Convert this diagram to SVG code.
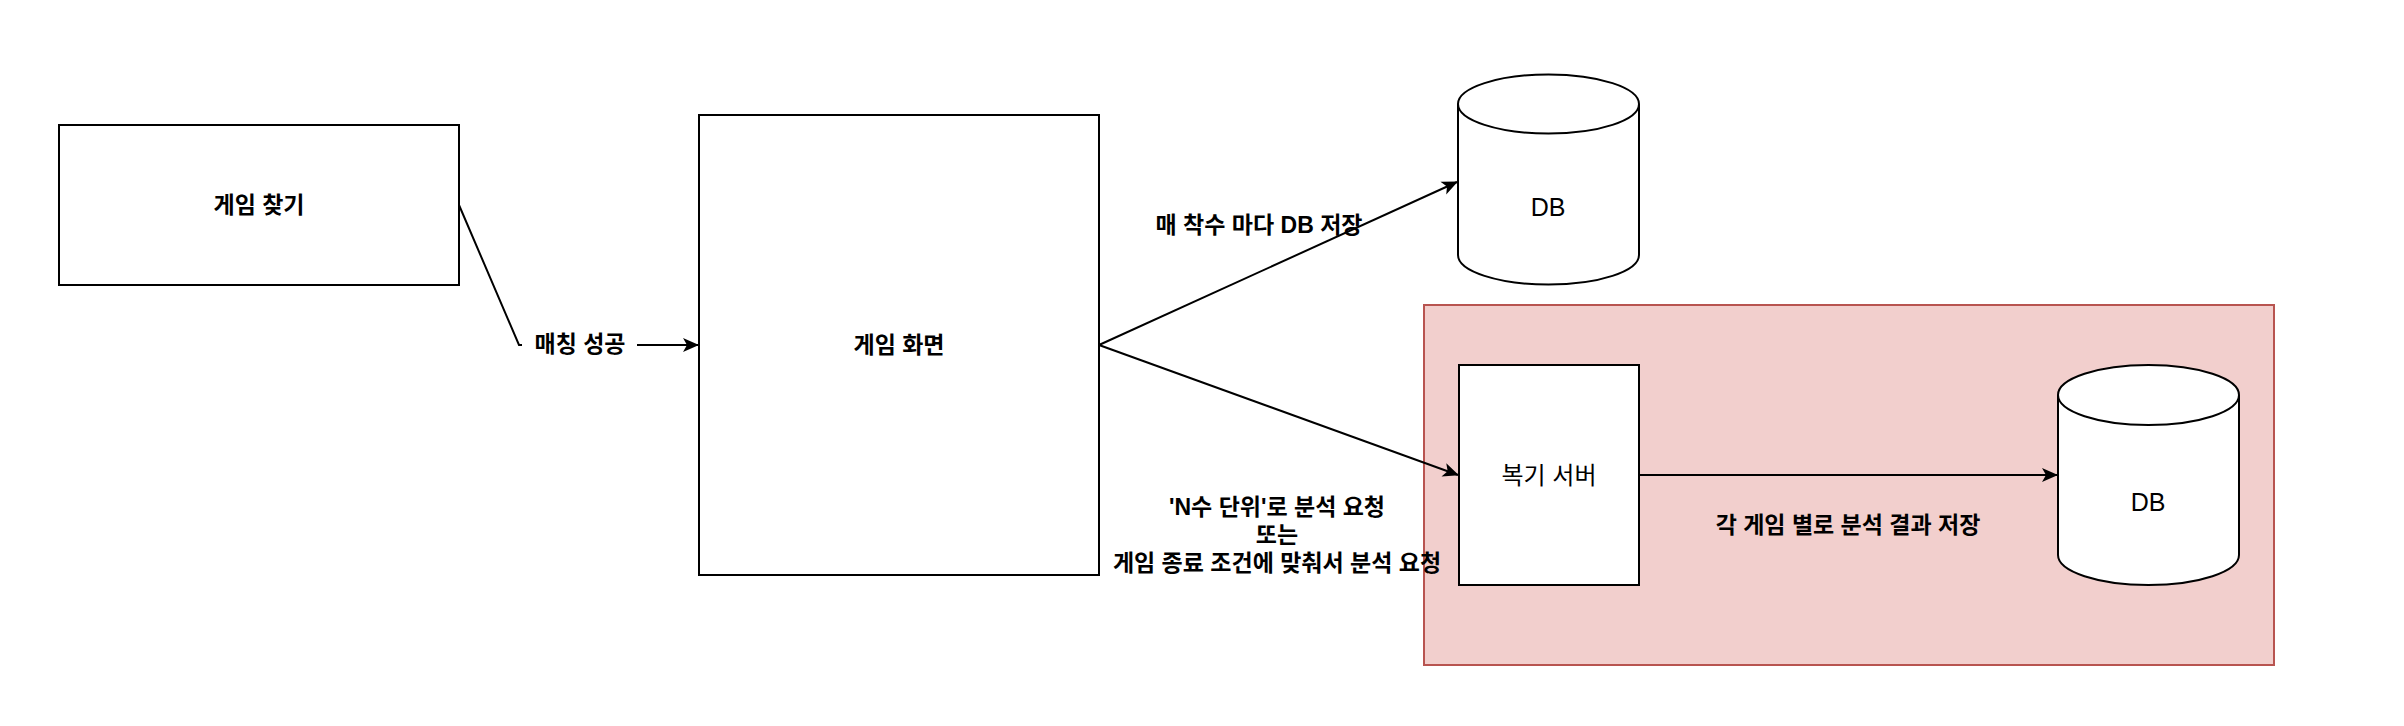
<svg xmlns="http://www.w3.org/2000/svg" width="2404" height="726" viewBox="0 0 2404 726">
<style>
.box{fill:#ffffff;stroke:#000000;stroke-width:2}
.grp{fill:#f2cfcd;stroke:#b85450;stroke-width:2}
.edge{fill:none;stroke:#000000;stroke-width:2}
.t{font-family:"Liberation Sans","Noto Sans CJK KR",sans-serif;font-size:24px;fill:#000000;text-anchor:middle;dominant-baseline:central}
.b{font-weight:bold;font-size:23px}
.db{font-size:25px}
</style>
<defs>
<marker id="arr" markerUnits="userSpaceOnUse" markerWidth="16" markerHeight="16" viewBox="0 0 16 16" refX="15" refY="8" orient="auto">
<path d="M0,1 L16,8 L0,15 L4,8 Z" fill="#000000"/>
</marker>
</defs>
<rect width="2404" height="726" fill="#ffffff"/>
<g id="group-container">
<rect class="grp" x="1424" y="305" width="850" height="360"/>
</g>
<g id="node-find-game">
<rect class="box" x="59" y="125" width="400" height="160"/>
<text class="t b" x="259" y="205">게임 찾기</text>
</g>
<g id="node-game-screen">
<rect class="box" x="699" y="115" width="400" height="460"/>
<text class="t b" x="899" y="345">게임 화면</text>
</g>
<g id="node-db-top">
<path class="box" d="M1458,104 A90.5,29.5 0 0 1 1639,104 L1639,255 A90.5,29.5 0 0 1 1458,255 Z"/>
<path class="edge" d="M1458,104 A90.5,29.5 0 0 0 1639,104"/>
<text class="t db" x="1548" y="207">DB</text>
</g>
<g id="node-review-server">
<rect class="box" x="1459" y="365" width="180" height="220"/>
<text class="t" x="1549" y="475">복기 서버</text>
</g>
<g id="node-db-bottom">
<path class="box" d="M2058,395 A90.5,30 0 0 1 2239,395 L2239,555 A90.5,30 0 0 1 2058,555 Z"/>
<path class="edge" d="M2058,395 A90.5,30 0 0 0 2239,395"/>
<text class="t db" x="2148" y="502">DB</text>
</g>
<g id="connectors">
<path class="edge" d="M459,205 L519,345 L698,345" marker-end="url(#arr)"/>
<path class="edge" d="M1099,345 L1457,182" marker-end="url(#arr)"/>
<path class="edge" d="M1099,345 L1458,475" marker-end="url(#arr)"/>
<path class="edge" d="M1639,475 L2057,475" marker-end="url(#arr)"/>
<rect x="522" y="328" width="115" height="32" fill="#ffffff"/>
<text class="t b" x="580" y="344">매칭 성공</text>
<text class="t b" x="1259" y="225">매 착수 마다 DB 저장</text>
<text class="t b" x="1277" y="507">'N수 단위'로 분석 요청</text>
<text class="t b" x="1277" y="535">또는</text>
<text class="t b" x="1277" y="563">게임 종료 조건에 맞춰서 분석 요청</text>
<text class="t b" x="1848" y="525">각 게임 별로 분석 결과 저장</text>
</g>
</svg>
